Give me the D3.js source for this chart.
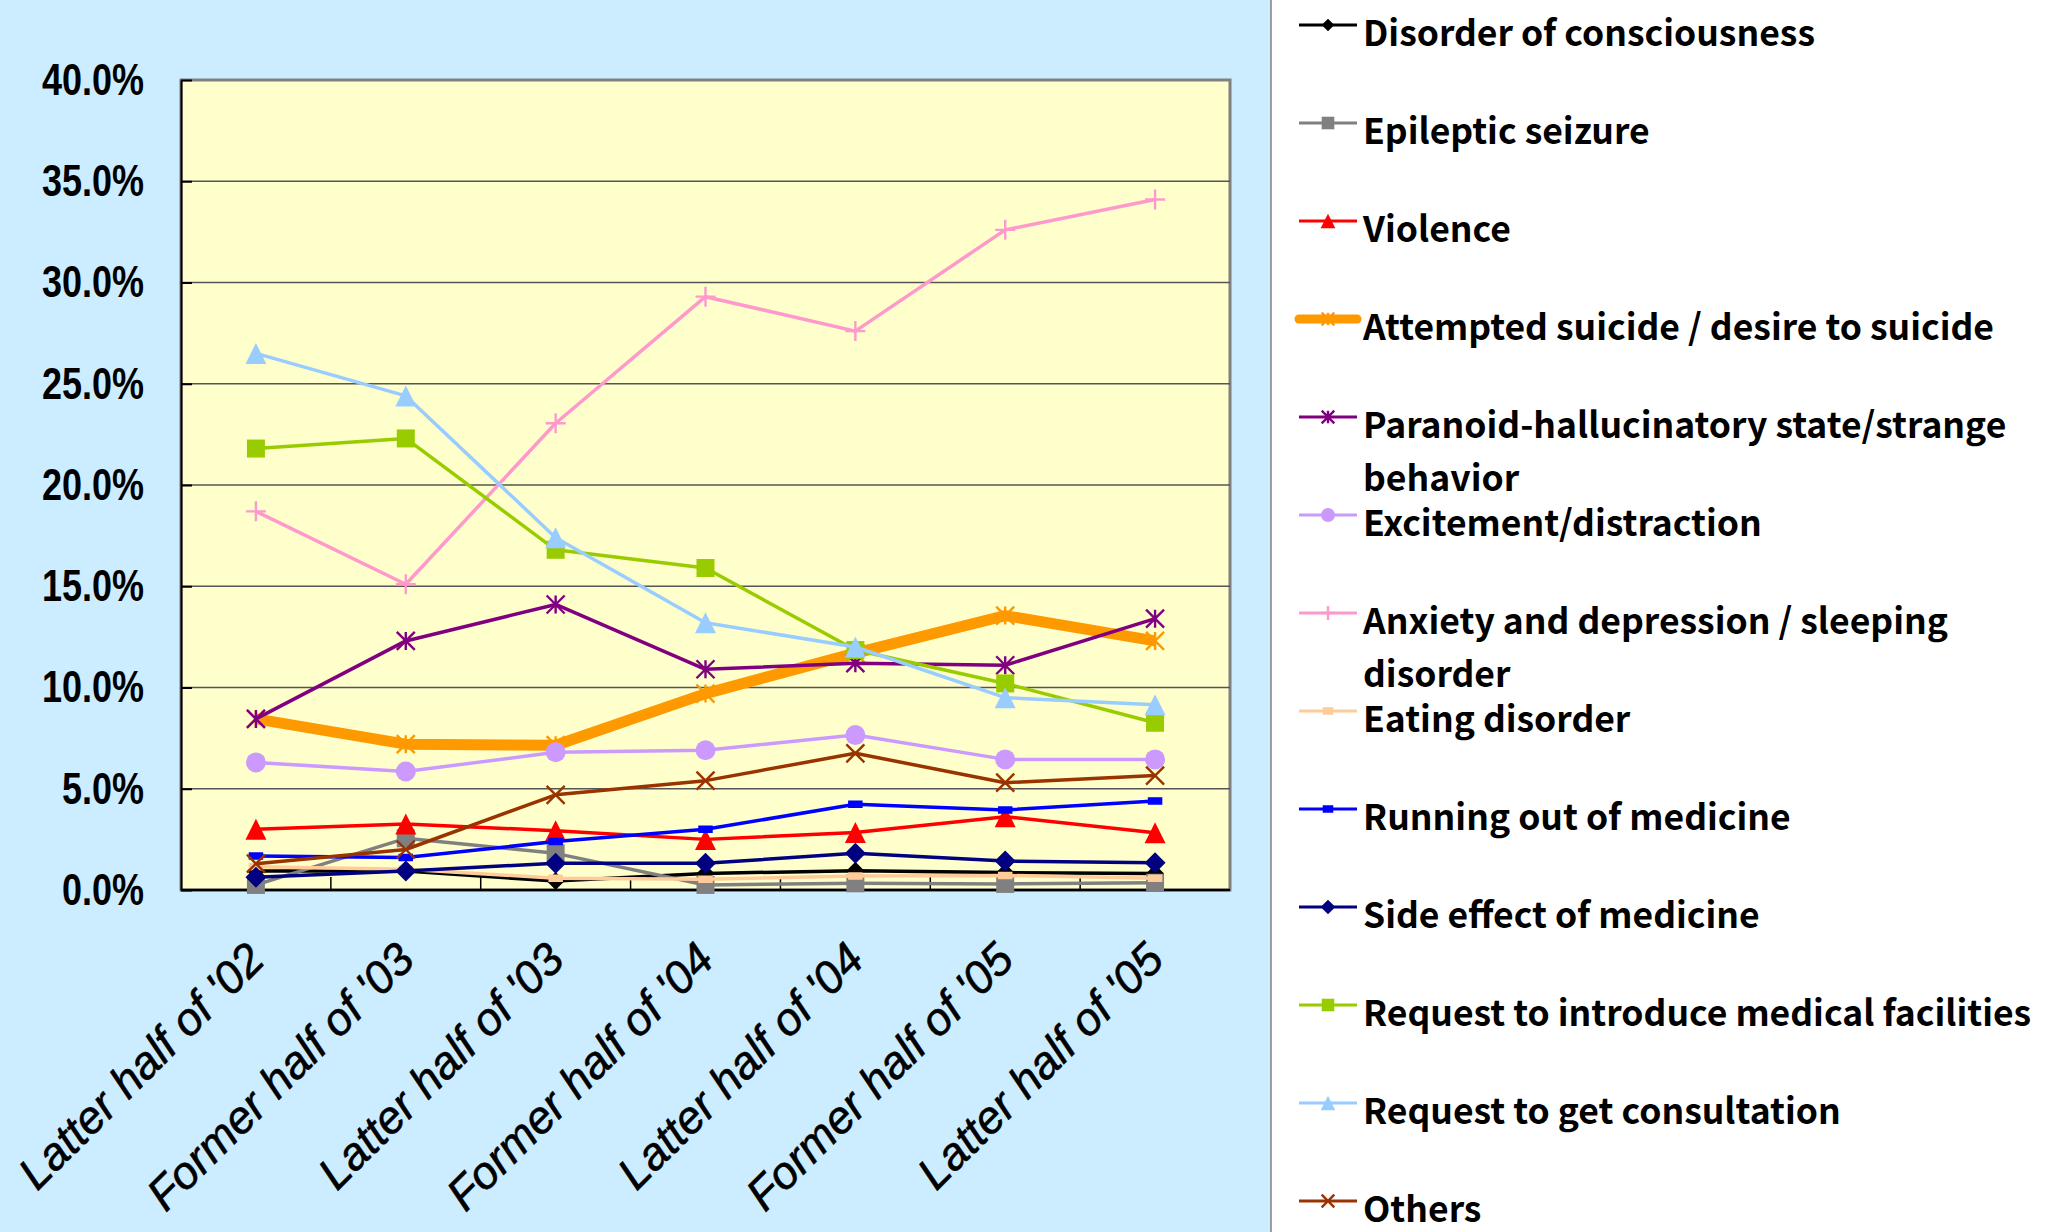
<!DOCTYPE html>
<html>
<head>
<meta charset="utf-8">
<script src="https://cdn.jsdelivr.net/npm/d3@7"></script>
<style>
  body { margin: 0; background: #CCECFF; }
  svg { display: block; }
</style>
</head>
<body>
<svg class="chart-svg" width="2056" height="1232"></svg>
<script>
// half-year periods
var categories = ["Latter half of '02", "Former half of '03", "Latter half of '03", "Former half of '04",
                  "Latter half of '04", "Former half of '05", "Latter half of '05"];

var yTicks = [0, 0.05, 0.10, 0.15, 0.20, 0.25, 0.30, 0.35, 0.40];

// values in percent
var disorder      = [0.94, 0.94, 0.44, 0.82, 0.95, 0.86, 0.82];
var epileptic     = [0.25, 2.55, 1.81, 0.25, 0.33, 0.30, 0.36];
var violence      = [3.0, 3.26, 2.93, 2.5, 2.84, 3.62, 2.83];
var suicide       = [8.45, 7.2, 7.15, 9.7, 11.7, 13.55, 12.3];
var paranoid      = [8.45, 12.3, 14.1, 10.9, 11.2, 11.1, 13.4];
var excitement    = [6.3, 5.85, 6.8, 6.9, 7.65, 6.45, 6.45];
var anxiety       = [18.7, 15.1, 23.05, 29.3, 27.6, 32.6, 34.1];
var eating        = [1.15, 1.03, 0.58, 0.53, 0.69, 0.72, 0.58];
var runningOut    = [1.68, 1.61, 2.39, 3.0, 4.23, 3.95, 4.4];
var sideEffect    = [0.63, 0.94, 1.32, 1.32, 1.81, 1.43, 1.35];
var requestIntro  = [21.8, 22.3, 16.8, 15.9, 11.85, 10.2, 8.26];
var consultation  = [26.5, 24.4, 17.4, 13.2, 12.0, 9.5, 9.15];
var others        = [1.3, 2.0, 4.7, 5.4, 6.75, 5.3, 5.65];

var seriesNames = [
    ["Disorder of consciousness"],
    ["Epileptic seizure"],
    ["Violence"],
    ["Attempted suicide / desire to suicide"],
    ["Paranoid-hallucinatory state/strange", "behavior"],
    ["Excitement/distraction"],
    ["Anxiety and depression / sleeping", "disorder"],
    ["Eating disorder"],
    ["Running out of medicine"],
    ["Side effect of medicine"],
    ["Request to introduce medical facilities"],
    ["Request to get consultation"],
    ["Others"]
];

var seriesValues = [disorder, epileptic, violence, suicide, paranoid, excitement, anxiety,
                    eating, runningOut, sideEffect, requestIntro, consultation, others];

var seriesStyle = [
    { color: "#000000", width: 3.5, marker: "diamond",  size: 18 },
    { color: "#808080", width: 3.5, marker: "square",   size: 18 },
    { color: "#FF0000", width: 3.5, marker: "triangle", size: 21 },
    { color: "#FF9900", width: 11,  marker: "star",     size: 18 },
    { color: "#800080", width: 3.5, marker: "star",     size: 18 },
    { color: "#CC99FF", width: 3.5, marker: "circle",   size: 20 },
    { color: "#FF99CC", width: 3.5, marker: "plus",     size: 20 },
    { color: "#FFCC99", width: 3.5, marker: "dash",     size: 13 },
    { color: "#0000FF", width: 3.5, marker: "dash",     size: 13 },
    { color: "#000080", width: 3.5, marker: "diamond",  size: 21 },
    { color: "#99CC00", width: 3.5, marker: "square",   size: 18 },
    { color: "#99CCFF", width: 3.5, marker: "triangle", size: 21 },
    { color: "#993300", width: 3.5, marker: "x",        size: 18 }
];

var svg = d3.select(".chart-svg");
var width = +svg.attr("width");
var height = +svg.attr("height");

var plot = { left: 181, top: 80, right: 1230, bottom: 890 };
var legendX = 1271;

var x = d3.scaleBand().domain(categories).range([plot.left, plot.right]).padding(0);
var y = d3.scaleLinear().domain([0, 0.4]).range([plot.bottom, plot.top]);

function cx(i) { return x(categories[i]) + x.bandwidth() / 2; }

// backgrounds
svg.append("rect").attr("width", width).attr("height", height).attr("fill", "#CCECFF");
svg.append("rect").attr("x", legendX).attr("y", 0).attr("width", width - legendX).attr("height", height)
    .attr("fill", "#FFFFFF");
svg.append("line").attr("x1", legendX).attr("x2", legendX).attr("y1", 0).attr("y2", height)
    .attr("stroke", "#808080").attr("stroke-width", 1.5);

svg.append("rect")
    .attr("x", plot.left).attr("y", plot.top)
    .attr("width", plot.right - plot.left).attr("height", plot.bottom - plot.top)
    .attr("fill", "#FFFFCC").attr("stroke", "#808080").attr("stroke-width", 3);

// gridlines
svg.append("g").attr("class", "grid")
    .selectAll("line")
    .data(yTicks.filter(function(d) { return d > 0 && d < 0.4; }))
    .enter().append("line")
    .attr("x1", plot.left).attr("x2", plot.right)
    .attr("y1", function(d) { return y(d); }).attr("y2", function(d) { return y(d); })
    .attr("stroke", "#555555").attr("stroke-width", 1.5);

// y axis (labels squeezed to look like a narrow face)
var squeeze = 0.8;
var yAxis = svg.append("g")
    .attr("transform", "translate(" + plot.left + ",0)")
    .call(d3.axisLeft(y).tickValues(yTicks).tickFormat(d3.format(".1%")).tickSizeInner(-11).tickSizeOuter(0));
yAxis.select(".domain").attr("stroke", "#000").attr("stroke-width", 2);
yAxis.selectAll(".tick line").attr("stroke", "#000").attr("stroke-width", 2);
yAxis.selectAll(".tick text")
    .attr("fill", "#000")
    .attr("x", -37 / squeeze)
    .attr("transform", "scale(" + squeeze + ",1)")
    .style("font-family", "'Liberation Sans', Arial, sans-serif")
    .style("font-weight", "bold")
    .style("font-size", "45px");

// x axis: ticks between categories, pointing up into the plot
var xBounds = categories.slice(1).map(function(c) { return x(c); });
svg.append("g").selectAll("line")
    .data(xBounds)
    .enter().append("line")
    .attr("x1", function(d) { return d; }).attr("x2", function(d) { return d; })
    .attr("y1", plot.bottom).attr("y2", plot.bottom - 13)
    .attr("stroke", "#000").attr("stroke-width", 1.5);
svg.append("line")
    .attr("x1", plot.left).attr("x2", plot.right).attr("y1", plot.bottom).attr("y2", plot.bottom)
    .attr("stroke", "#000").attr("stroke-width", 2.5);

svg.append("g").selectAll("text")
    .data(categories)
    .enter().append("text")
    .attr("transform", function(d, i) { return "translate(" + (cx(i) + 11) + "," + 962 + ") rotate(-45)"; })
    .attr("text-anchor", "end")
    .style("font-family", "'Liberation Sans', Arial, sans-serif")
    .style("font-style", "italic")
    .style("font-size", "45.5px")
    .attr("fill", "#000")
    .attr("stroke", "#000")
    .attr("stroke-width", 0.6)
    .text(function(d) { return d; });

// marker drawing
function markerPath(type, s) {
    var h = s / 2;
    if (type === "diamond") return "M0," + (-h) + "L" + h + ",0L0," + h + "L" + (-h) + ",0Z";
    if (type === "square") return "M" + (-h) + "," + (-h) + "h" + s + "v" + s + "h" + (-s) + "Z";
    if (type === "triangle") return "M0," + (-h) + "L" + h + "," + h + "L" + (-h) + "," + h + "Z";
    if (type === "circle") return d3.symbol().type(d3.symbolCircle).size(Math.PI * h * h)();
    if (type === "plus") return "M" + (-h) + ",0H" + h + "M0," + (-h) + "V" + h;
    if (type === "x") return "M" + (-h) + "," + (-h) + "L" + h + "," + h + "M" + h + "," + (-h) + "L" + (-h) + "," + h;
    if (type === "star") return "M" + (-h) + "," + (-h) + "L" + h + "," + h + "M" + h + "," + (-h) + "L" + (-h) + "," + h +
        "M0," + (-h) + "V" + h;
    if (type === "dash") return "M" + (-h) + ",-3h" + s + "v6h" + (-s) + "Z";
    return "";
}

function isOpen(type) { return type === "plus" || type === "x" || type === "star"; }

function drawMarker(sel, st, scale) {
    var s = st.size * scale;
    sel.attr("d", markerPath(st.marker, s));
    if (isOpen(st.marker)) {
        sel.attr("fill", "none").attr("stroke", st.color).attr("stroke-width", 2.4);
    } else if (st.marker === "dash") {
        sel.attr("fill", st.color).attr("stroke", st.color).attr("stroke-width", 1.5);
    } else {
        sel.attr("fill", st.color).attr("stroke", "none");
    }
}

var line = d3.line()
    .x(function(d, i) { return cx(i); })
    .y(function(d) { return y(d / 100); });

seriesValues.forEach(function(vals, k) {
    var st = seriesStyle[k];
    var g = svg.append("g").attr("class", "series");
    g.append("path")
        .attr("d", line(vals))
        .attr("fill", "none")
        .attr("stroke", st.color)
        .attr("stroke-width", st.width)
        .attr("stroke-linejoin", "round");
    g.selectAll("path.marker")
        .data(vals)
        .enter().append("path")
        .attr("class", "marker")
        .attr("transform", function(d, i) { return "translate(" + cx(i) + "," + y(d / 100) + ")"; })
        .each(function() { drawMarker(d3.select(this), st, 1); });
});

// legend
var legend = svg.append("g").attr("class", "legend");
seriesNames.forEach(function(lines, k) {
    var st = seriesStyle[k];
    var ly = 25 + k * 98;
    var item = legend.append("g").attr("transform", "translate(0," + ly + ")");
    item.append("line")
        .attr("x1", 1299).attr("x2", 1357).attr("y1", 0).attr("y2", 0)
        .attr("stroke", st.color).attr("stroke-width", st.width > 5 ? 9 : 3)
        .attr("stroke-linecap", st.width > 5 ? "round" : "butt");
    item.append("path")
        .attr("transform", "translate(1328,0)")
        .each(function() { drawMarker(d3.select(this), st, 0.7); });
    var t = item.append("text")
        .attr("x", 1363).attr("y", 21)
        .style("font-family", "'Noto Sans CJK JP', 'Noto Sans', sans-serif")
        .style("font-weight", "700")
        .style("font-size", "35.5px")
        .attr("fill", "#000");
    lines.forEach(function(s, j) {
        t.append("tspan").attr("x", 1363).attr("dy", j === 0 ? 0 : 53).text(s);
    });
});
</script>
</body>
</html>
